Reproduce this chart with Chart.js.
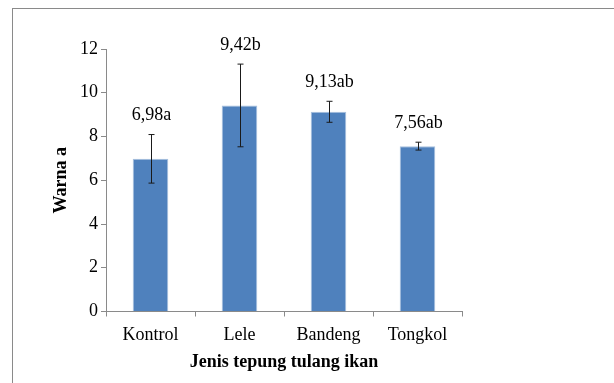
<!DOCTYPE html>
<html>
<head>
<meta charset="utf-8">
<script src="https://cdn.jsdelivr.net/npm/chart.js@4/dist/chart.umd.min.js"></script>
<style>
    body { margin: 0; background: #fff; overflow: hidden; }
    #wrap { position: relative; width: 614px; height: 383px; }
    #frame {
        position: absolute; left: 12px; top: 8px; width: 700px; height: 500px;
        border: 1px solid #8a8a8a; box-sizing: border-box;
    }
    canvas { position: absolute; left: 0; top: 0; }
</style>
</head>
<body>
<div id="wrap">
    <div id="frame"></div>
    <canvas id="chart" width="614" height="383"></canvas>
</div>
<script>
    // data
    let categories = ["Kontrol", "Lele", "Bandeng", "Tongkol"];
    let means = [6.98, 9.42, 9.13, 7.56];
    let errors = [1.11, 1.89, 0.48, 0.18];
    let letters = ["a", "b", "ab", "ab"];
    let yTicks = [0, 2, 4, 6, 8, 10, 12];

    let serif = '"Liberation Serif", "Times New Roman", "DejaVu Serif", serif';
    Chart.defaults.font.family = serif;

    // error bars + the "6,98a" style labels
    let errorBars = {
        id: 'errorBars',
        afterDatasetsDraw: function (chart) {
            let ctx = chart.ctx;
            let x = chart.scales.x;
            let y = chart.scales.y;
            ctx.save();
            ctx.strokeStyle = '#1a1a1a';
            ctx.lineWidth = 1;
            means.forEach(function (m, i) {
                let cx = Math.round(x.getPixelForValue(i)) + 0.5;
                let top = y.getPixelForValue(m + errors[i]);
                let bot = y.getPixelForValue(m - errors[i]);
                ctx.beginPath();
                ctx.moveTo(cx, top);
                ctx.lineTo(cx, bot);
                ctx.moveTo(cx - 3, top);
                ctx.lineTo(cx + 3, top);
                ctx.moveTo(cx - 3, bot);
                ctx.lineTo(cx + 3, bot);
                ctx.stroke();

                ctx.fillStyle = '#000';
                ctx.font = '18px ' + serif;
                ctx.textAlign = 'center';
                ctx.textBaseline = 'middle';
                ctx.fillText(m.toFixed(2).replace('.', ',') + letters[i], cx, top - 19);
            });
            ctx.restore();
        }
    };

    new Chart(document.getElementById('chart').getContext('2d'), {
        type: 'bar',
        data: {
            labels: categories,
            datasets: [{
                data: means,
                backgroundColor: '#4F81BD',
                borderColor: '#A7C0DE',
                borderWidth: 1,
                categoryPercentage: 0.4,
                barPercentage: 1
            }]
        },
        options: {
            responsive: false,
            animation: false,
            layout: {padding: {left: 44, top: 49, right: 152, bottom: 6}},
            plugins: {legend: {display: false}, tooltip: {enabled: false}},
            scales: {
                x: {
                    grid: {display: true, drawOnChartArea: false, drawTicks: true, tickLength: 5, color: '#8a8a8a', offset: true},
                    border: {color: '#8a8a8a'},
                    ticks: {color: '#000', font: {family: serif, size: 18}, padding: 8},
                    title: {display: true, text: 'Jenis tepung tulang ikan', color: '#000',
                        font: {family: serif, size: 18, weight: 'bold'}, padding: {top: 0}},
                    afterFit: function (s) { s.height = 65.5; }
                },
                y: {
                    min: 0,
                    max: 12,
                    afterBuildTicks: function (s) { s.ticks = yTicks.map(function (v) { return {value: v}; }); },
                    grid: {display: true, drawOnChartArea: false, drawTicks: true, tickLength: 5, color: '#8a8a8a'},
                    border: {color: '#8a8a8a'},
                    ticks: {color: '#000', font: {family: serif, size: 18}, padding: 3},
                    title: {display: true, text: 'Warna a', color: '#000',
                        font: {family: serif, size: 18, weight: 'bold'}, padding: {top: 7}},
                    afterFit: function (s) { s.width = 62; }
                }
            }
        },
        plugins: [errorBars]
    });
</script>
</body>
</html>
